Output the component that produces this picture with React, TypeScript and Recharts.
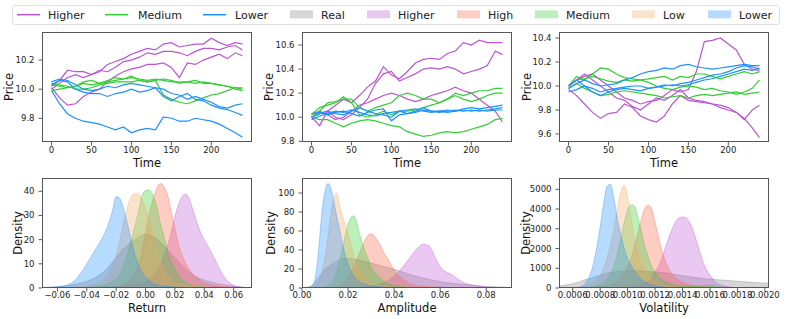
import { LineChart, Line, AreaChart, Area, XAxis, YAxis } from "recharts";

const FONT = '"DejaVu Sans", sans-serif';

// ---- simulated price paths (sampled every 10 steps) ----
const TIME = [0, 10, 20, 30, 40, 50, 60, 70, 80, 90, 100, 110, 120, 130, 140, 150, 160, 170, 180, 190, 200, 210, 220, 230, 239];

const A_HIGHER = [
  [10.02, 10.06, 10.13, 10.12, 10.12, 10.1, 10.12, 10.17, 10.19, 10.21, 10.24, 10.26, 10.28, 10.27, 10.31, 10.32, 10.29, 10.3, 10.31, 10.31, 10.35, 10.32, 10.3, 10.32, 10.31],
  [10.0, 10.04, 10.08, 10.1, 10.08, 10.1, 10.13, 10.12, 10.15, 10.19, 10.2, 10.22, 10.25, 10.24, 10.26, 10.26, 10.25, 10.23, 10.26, 10.28, 10.28, 10.27, 10.29, 10.3, 10.27],
  [10.01, 9.94, 9.89, 9.9, 9.95, 9.98, 10.0, 10.05, 10.09, 10.12, 10.14, 10.15, 10.17, 10.17, 10.18, 10.15, 10.08, 10.18, 10.17, 10.2, 10.22, 10.24, 10.21, 10.25, 10.23],
];
const A_MEDIUM = [
  [9.99, 10.0, 10.01, 10.02, 10.04, 10.03, 10.04, 10.05, 10.06, 10.07, 10.08, 10.07, 10.06, 10.07, 10.06, 10.05, 10.05, 10.05, 10.04, 10.05, 10.04, 10.03, 10.02, 10.01, 10.0],
  [10.03, 10.02, 10.01, 10.02, 10.05, 10.06, 10.04, 10.06, 10.08, 10.07, 10.09, 10.06, 10.05, 10.06, 9.96, 9.93, 9.91, 9.9, 9.92, 9.94, 9.96, 9.97, 9.99, 10.01, 10.01],
  [10.04, 10.03, 10.02, 10.0, 10.0, 10.01, 10.03, 10.04, 10.05, 10.05, 10.05, 10.06, 10.05, 10.06, 10.07, 10.06, 10.04, 10.05, 10.06, 10.04, 10.04, 10.03, 10.02, 10.0, 9.99],
];
const A_LOWER = [
  [9.99, 9.9, 9.83, 9.8, 9.78, 9.77, 9.76, 9.74, 9.72, 9.74, 9.7, 9.72, 9.73, 9.72, 9.81, 9.8, 9.78, 9.78, 9.8, 9.79, 9.78, 9.76, 9.73, 9.7, 9.67],
  [10.03, 10.06, 10.05, 10.0, 9.98, 9.97, 9.97, 9.95, 9.97, 9.98, 10.0, 9.98, 9.99, 10.01, 9.95, 9.92, 9.95, 9.97, 9.93, 9.92, 9.89, 9.87, 9.86, 9.84, 9.82],
  [10.05, 10.07, 10.06, 10.03, 10.0, 9.99, 10.0, 10.02, 10.01, 10.03, 10.04, 10.03, 10.02, 10.01, 10.0, 9.97, 9.96, 9.93, 9.95, 9.93, 9.91, 9.88, 9.87, 9.89, 9.9],
];

const B_HIGHER = [
  [10.0, 9.93, 10.05, 10.1, 10.15, 10.12, 10.18, 10.25, 10.3, 10.42, 10.35, 10.32, 10.38, 10.45, 10.48, 10.49, 10.48, 10.53, 10.55, 10.62, 10.6, 10.64, 10.62, 10.62, 10.62],
  [10.0, 10.03, 10.05, 10.0, 9.98, 10.02, 10.08, 10.15, 10.28, 10.36, 10.38, 10.3, 10.33, 10.36, 10.4, 10.41, 10.4, 10.42, 10.4, 10.36, 10.38, 10.4, 10.43, 10.55, 10.52],
  [10.02, 10.05, 10.02, 9.98, 10.0, 10.05, 10.1, 10.12, 10.15, 10.18, 10.2, 10.18, 10.15, 10.13, 10.15, 10.18, 10.2, 10.22, 10.25, 10.22, 10.2, 10.15, 10.1, 10.05, 9.96],
];
const B_MEDIUM = [
  [10.0, 10.05, 10.12, 10.13, 10.15, 10.15, 10.08, 10.05, 10.08, 10.1, 10.12, 10.18, 10.2, 10.18, 10.15, 10.15, 10.12, 10.15, 10.2, 10.18, 10.2, 10.22, 10.22, 10.24, 10.24],
  [10.02, 10.08, 10.1, 10.12, 10.17, 10.12, 10.02, 10.0, 10.02, 10.05, 10.02, 10.05, 10.05, 10.06, 10.08, 10.1, 10.12, 10.15, 10.18, 10.15, 10.13, 10.15, 10.18, 10.2, 10.2],
  [10.0, 9.98, 9.98, 9.95, 9.92, 9.95, 9.97, 9.98, 9.97, 9.95, 9.93, 9.92, 9.88, 9.86, 9.84, 9.85, 9.87, 9.88, 9.87, 9.88, 9.9, 9.92, 9.94, 9.98, 9.99],
];
const B_LOWER = [
  [10.0, 10.03, 10.05, 10.03, 10.02, 10.05, 10.08, 10.05, 10.03, 10.02, 10.0, 10.05, 10.06, 10.07, 10.05, 10.04, 10.05, 10.06, 10.05, 10.07, 10.08, 10.07, 10.08, 10.09, 10.1],
  [10.03, 10.04, 10.02, 10.04, 10.05, 10.03, 10.01, 10.04, 10.06, 10.07, 9.97, 10.02, 10.03, 10.05, 10.08, 10.05, 10.04, 10.05, 10.06, 10.05, 10.06, 10.05, 10.06, 10.07, 10.08],
  [9.98, 10.01, 10.03, 10.05, 10.04, 10.06, 10.04, 10.02, 10.01, 10.03, 10.04, 10.05, 10.03, 10.04, 10.06, 10.05, 10.05, 10.04, 10.05, 10.06, 10.05, 10.06, 10.05, 10.06, 10.06],
];

const C_HIGHER = [
  [10.0, 10.05, 10.08, 10.1, 10.05, 10.0, 9.95, 9.9, 9.88, 9.85, 9.87, 9.88, 9.92, 9.97, 9.95, 9.97, 10.12, 10.37, 10.38, 10.4, 10.35, 10.3, 10.18, 10.14, 10.13],
  [10.0, 10.05, 10.1, 10.05, 10.0, 9.95, 9.9, 9.88, 9.83, 9.8, 9.85, 9.9, 9.88, 9.92, 9.97, 9.9, 9.88, 9.87, 9.85, 9.82, 9.8, 9.78, 9.73, 9.65, 9.57],
  [9.97, 9.92, 9.85, 9.78, 9.73, 9.77, 9.78, 9.85, 9.82, 9.75, 9.72, 9.7, 9.75, 9.85, 9.92, 9.88, 9.87, 9.86, 9.85, 9.84, 9.82, 9.78, 9.72, 9.8, 9.84],
];
const C_MEDIUM = [
  [10.0, 10.08, 10.05, 10.1, 10.15, 10.14, 10.1, 10.07, 10.06, 10.05, 10.06, 10.07, 10.08, 10.05, 10.08, 10.07, 10.1, 10.1, 10.08, 10.06, 10.08, 10.1, 10.12, 10.1, 10.12],
  [10.0, 10.05, 10.06, 10.08, 10.06, 10.04, 10.03, 10.05, 10.04, 10.05, 10.03, 10.0, 9.98, 9.97, 9.99, 10.0, 9.99, 9.97, 9.98, 9.96, 9.95, 9.93, 9.95, 9.98, 10.05],
  [9.98, 10.02, 9.98, 9.95, 9.92, 9.93, 9.95, 9.96, 9.95, 9.94, 9.93, 9.92, 9.9, 9.91, 9.92, 9.9, 9.92, 9.93, 9.92, 9.93, 9.94, 9.95, 9.93, 9.94, 9.95],
];
const C_LOWER = [
  [9.98, 10.02, 10.05, 10.02, 10.0, 10.01, 10.02, 10.05, 10.07, 10.1, 10.12, 10.13, 10.15, 10.14, 10.17, 10.18, 10.16, 10.15, 10.14, 10.15, 10.16, 10.17, 10.18, 10.17, 10.17],
  [10.0, 10.05, 10.0, 9.98, 9.95, 9.97, 9.98, 9.99, 10.0, 10.0, 9.98, 9.99, 10.01, 10.0, 10.02, 10.03, 10.05, 10.07, 10.09, 10.1, 10.12, 10.15, 10.17, 10.16, 10.14],
  [9.95, 9.97, 10.0, 9.95, 9.92, 9.95, 9.97, 9.98, 9.97, 9.96, 9.98, 9.99, 10.0, 10.01, 10.0, 10.01, 10.03, 10.05, 10.06, 10.08, 10.1, 10.12, 10.14, 10.13, 10.15],
];

// ---- density curves ----
const RETURN_X = [-0.07, -0.065, -0.06, -0.055, -0.05, -0.0475, -0.045, -0.0425, -0.04, -0.0375, -0.035, -0.0325, -0.03, -0.0275, -0.025, -0.0225, -0.02, -0.0175, -0.015, -0.0125, -0.01, -0.0075, -0.005, -0.0025, 0, 0.0025, 0.005, 0.0075, 0.01, 0.0125, 0.015, 0.0175, 0.02, 0.0225, 0.025, 0.0275, 0.03, 0.0325, 0.035, 0.0375, 0.04, 0.0425, 0.045, 0.0475, 0.05, 0.055, 0.06, 0.065, 0.07];
const RETURN_REAL = [0.2, 0.3, 0.5, 0.8, 1.3, 1.6, 1.9, 2.3, 2.8, 3.4, 4.1, 5, 6, 7.3, 9, 10.8, 12.6, 14.5, 16.3, 17.6, 18.9, 20, 21, 21.8, 22.2, 22, 21.3, 20.3, 19, 17.5, 16, 14.3, 12.5, 10.8, 9.3, 7.8, 6.4, 5.3, 4.5, 3.9, 3.3, 2.8, 2.4, 2, 1.7, 1.2, 0.8, 0.4, 0.2];
const RETURN_HIGHER = [0, 0.05, 0.05, 0.1, 0.1, 0.15, 0.15, 0.2, 0.2, 0.25, 0.3, 0.3, 0.35, 0.4, 0.45, 0.5, 0.55, 0.65, 0.75, 0.85, 1, 1.2, 1.5, 1.9, 2.5, 3.5, 4.8, 6.8, 9.4, 13, 17.5, 23, 29.5, 34.5, 38, 38.8, 36.5, 31.8, 27, 23, 20, 17.2, 14.5, 11.5, 8.3, 3.5, 1.1, 0.4, 0.1];
const RETURN_HIGH = [0, 0, 0, 0, 0, 0, 0, 0.02, 0.03, 0.04, 0.05, 0.1, 0.15, 0.2, 0.3, 0.4, 0.6, 1, 1.5, 2.3, 3.5, 5.5, 9.5, 15, 22.5, 30.5, 36.5, 41, 43.2, 42, 38.5, 31.5, 24.5, 18, 13.3, 10, 7.5, 5.5, 4, 3, 2.2, 1.6, 1.2, 0.9, 0.7, 0.4, 0.2, 0.1, 0.05];
const RETURN_MEDIUM = [0, 0, 0, 0, 0.05, 0.1, 0.1, 0.15, 0.2, 0.3, 0.4, 0.6, 0.8, 1.2, 1.8, 2.6, 3.8, 5.7, 9, 13.5, 19, 25, 31, 38, 40.3, 40.5, 38.5, 34, 27, 21.5, 15, 11, 7.5, 5, 3.3, 2.2, 1.4, 1, 0.7, 0.5, 0.35, 0.25, 0.2, 0.1, 0.1, 0.05, 0, 0, 0];
const RETURN_LOW = [0, 0, 0.05, 0.1, 0.2, 0.3, 0.4, 0.6, 0.8, 1, 1.3, 1.8, 2.7, 4, 6, 9.5, 13.5, 19.5, 27, 33, 37.5, 39, 39, 37, 33, 28, 21.5, 15.5, 11, 7.8, 5.3, 3.5, 2.5, 1.8, 1.4, 1.1, 0.8, 0.6, 0.4, 0.3, 0.2, 0.15, 0.1, 0.05, 0, 0, 0, 0, 0];
const RETURN_LOWER = [0.1, 0.3, 0.5, 1, 2.2, 3.5, 5.5, 7.5, 10, 12.5, 15, 17.5, 20, 23, 27, 32, 37.8, 37, 33, 27, 20.5, 14.5, 10, 6.5, 4.5, 3, 2, 1.4, 1, 0.8, 0.6, 0.5, 0.4, 0.35, 0.3, 0.25, 0.2, 0.15, 0.15, 0.1, 0.1, 0.05, 0.05, 0, 0, 0, 0, 0, 0];

const AMP_X = [0, 0.00125, 0.0025, 0.00375, 0.005, 0.00625, 0.0075, 0.00875, 0.01, 0.01125, 0.0125, 0.01375, 0.015, 0.01625, 0.0175, 0.01875, 0.02, 0.02125, 0.0225, 0.02375, 0.025, 0.02625, 0.0275, 0.02875, 0.03, 0.03125, 0.0325, 0.03375, 0.035, 0.03625, 0.0375, 0.03875, 0.04, 0.0425, 0.045, 0.0475, 0.05, 0.0525, 0.055, 0.0575, 0.06, 0.065, 0.07, 0.075, 0.08, 0.085, 0.09];
const AMP_REAL = [0, 0.3, 1, 2, 4.5, 8, 12, 16, 19.5, 22, 24.5, 26.5, 28.2, 29.5, 30.5, 31, 31, 30.8, 30.3, 29.7, 29.2, 28.5, 27.8, 27, 26.2, 25.4, 24.6, 23.8, 23, 22.2, 21.4, 20.5, 19.7, 18, 15.8, 13.8, 12.2, 10.6, 9.2, 7.8, 6.8, 5, 3.8, 2.7, 1.8, 1.1, 0.6];
const AMP_HIGHER = [0, 0, 0, 0, 0, 0, 0, 0, 0, 0, 0, 0, 0.05, 0.1, 0.15, 0.2, 0.5, 0.6, 0.7, 0.8, 1, 1.2, 1.4, 1.7, 2.1, 2.5, 3, 4, 5.2, 6.5, 8, 10, 12.5, 18.5, 26, 34, 41.5, 46, 44.5, 34, 22, 14, 6, 2.6, 1, 0.5, 0.2];
const AMP_HIGH = [0, 0, 0, 0, 0, 0, 0, 0, 0, 0.1, 0.3, 0.7, 1.4, 2.3, 4, 7, 11, 16, 23, 30, 37, 44, 51, 55.5, 57, 55, 51, 46, 40, 34, 30, 24, 19, 12, 7, 4, 2.5, 1.8, 1.3, 1, 0.7, 0.4, 0.2, 0.1, 0.05, 0, 0];
const AMP_MEDIUM = [0, 0, 0, 0, 0, 0, 0.1, 0.5, 1.2, 2.5, 4.5, 8.5, 17, 28, 41, 55, 67, 74, 76, 69, 57, 47, 38, 31, 22, 17, 13.5, 10.5, 8, 6, 4.5, 3.3, 2.6, 1.6, 1, 0.6, 0.4, 0.2, 0.1, 0.05, 0, 0, 0, 0, 0, 0, 0];
const AMP_LOW = [0, 0, 0, 0.2, 0.8, 3, 7.5, 18, 33, 53, 78, 94, 100, 88, 76, 67, 57, 46, 34, 26, 18, 13, 9.5, 6.5, 4.8, 3.6, 2.8, 2.3, 1.9, 1.6, 1.3, 1.1, 0.9, 0.7, 0.5, 0.4, 0.3, 0.2, 0.1, 0.05, 0, 0, 0, 0, 0, 0, 0];
const AMP_LOWER = [0, 0, 0.1, 0.8, 4, 18, 48, 82, 102, 110, 105, 92, 76, 62, 47, 35, 25, 18, 12.5, 8.5, 6.2, 4.8, 3.8, 3, 2.5, 2, 1.6, 1.3, 1, 0.8, 0.6, 0.5, 0.4, 0.3, 0.2, 0.1, 0.1, 0.05, 0, 0, 0, 0, 0, 0, 0, 0, 0];

const VOL_X = [0.0005, 0.00055, 0.0006, 0.00065, 0.0007, 0.000725, 0.00075, 0.000775, 0.0008, 0.000825, 0.00085, 0.000875, 0.0009, 0.000925, 0.00095, 0.000975, 0.001, 0.001025, 0.00105, 0.001075, 0.0011, 0.001125, 0.00115, 0.001175, 0.0012, 0.001225, 0.00125, 0.001275, 0.0013, 0.001325, 0.00135, 0.001375, 0.0014, 0.001425, 0.00145, 0.001475, 0.0015, 0.001525, 0.00155, 0.001575, 0.0016, 0.00165, 0.0017, 0.00175, 0.0018, 0.00185, 0.0019, 0.00195, 0.00203];
const VOL_REAL = [100, 150, 220, 320, 440, 490, 540, 590, 645, 700, 750, 790, 815, 840, 860, 870, 878, 880, 880, 875, 865, 855, 840, 825, 810, 795, 785, 760, 735, 710, 685, 655, 625, 600, 575, 550, 525, 505, 485, 465, 450, 420, 400, 370, 345, 315, 290, 270, 240];
const VOL_HIGHER = [0, 0, 0, 0, 0, 0, 0, 0, 0, 0, 0, 0, 0, 0, 0, 10, 20, 35, 60, 95, 160, 240, 350, 560, 850, 1080, 1500, 2050, 2550, 3000, 3350, 3560, 3600, 3560, 3330, 2950, 2420, 1850, 1300, 920, 650, 250, 110, 40, 10, 0, 0, 0, 0];
const VOL_HIGH = [0, 0, 0, 0, 0, 10, 20, 40, 60, 80, 110, 160, 240, 350, 520, 750, 1100, 1500, 2100, 2800, 3500, 4020, 4200, 4020, 3320, 2580, 1880, 1350, 950, 700, 500, 370, 280, 200, 160, 120, 100, 80, 60, 50, 40, 20, 10, 0, 0, 0, 0, 0, 0];
const VOL_MEDIUM = [0, 0, 0, 0, 20, 35, 60, 100, 170, 270, 450, 750, 1100, 1750, 2500, 3300, 3950, 4220, 4150, 3580, 2880, 2100, 1600, 1100, 800, 600, 430, 320, 240, 180, 140, 110, 100, 90, 80, 80, 90, 100, 120, 135, 140, 90, 20, 0, 0, 0, 0, 0, 0];
const VOL_LOW = [0, 0, 0, 30, 100, 180, 270, 420, 650, 1000, 1500, 2150, 2950, 4000, 4850, 5200, 4600, 3550, 2500, 1800, 1280, 900, 620, 450, 320, 220, 160, 120, 90, 70, 55, 40, 30, 20, 15, 10, 5, 0, 0, 0, 0, 0, 0, 0, 0, 0, 0, 0, 0];
const VOL_LOWER = [0, 0, 0, 40, 300, 650, 1200, 2050, 3100, 4250, 5150, 5250, 4550, 3500, 2700, 2000, 1500, 1150, 850, 620, 430, 320, 220, 160, 110, 80, 60, 45, 35, 25, 20, 15, 10, 5, 0, 0, 0, 0, 0, 0, 0, 0, 0, 0, 0, 0, 0, 0, 0];

const LINE_COLORS = { higher: "#BA55D3", medium: "#32CD32", lower: "#1E90FF" };
const KDE_SERIES = [
  { key: "real", label: "Real", color: "#808080" },
  { key: "higher", label: "Higher", color: "#BA55D3" },
  { key: "high", label: "High", color: "#FF6347" },
  { key: "medium", label: "Medium", color: "#32CD32" },
  { key: "low", label: "Low", color: "#F4A460" },
  { key: "lower", label: "Lower", color: "#1E90FF" },
];
const FILL_ALPHA = 0.32;

const PW = 210;
const PH = 110;
const COLS = [42, 302, 559];
const ROW_TOP = 32;
const ROW_BOTTOM = 178;
const RIGHT_PAD = 26; // room for overhanging tick labels

const tickStyle = { fontSize: 8.5, fill: "#222" };
const tickLine = { stroke: "#333", strokeWidth: 0.8 };

function PricePanel({ left, higher, medium, lower, yDomain, yTicks }: any) {
  const rows = TIME.map((t, i) => {
    const r: any = { t };
    higher.forEach((s: number[], k: number) => (r["h" + k] = s[i]));
    medium.forEach((s: number[], k: number) => (r["m" + k] = s[i]));
    lower.forEach((s: number[], k: number) => (r["l" + k] = s[i]));
    return r;
  });
  const groups: [string, number[][], string][] = [
    ["h", higher, LINE_COLORS.higher],
    ["m", medium, LINE_COLORS.medium],
    ["l", lower, LINE_COLORS.lower],
  ];
  return (
    <div style={{ position: "absolute", left: left - 40, top: ROW_TOP - 6 }}>
      <LineChart width={PW + 40 + RIGHT_PAD} height={PH + 26} data={rows} margin={{ top: 6, right: RIGHT_PAD, bottom: 0, left: 0 }}>
        <XAxis
          dataKey="t"
          type="number"
          domain={[-11.95, 250.95]}
          ticks={[0, 50, 100, 150, 200]}
          interval={0}
          allowDataOverflow
          axisLine={false}
          tickLine={tickLine}
          tickSize={3.5}
          tickMargin={1.5}
          tick={tickStyle}
          height={20}
        />
        <YAxis
          type="number"
          domain={yDomain}
          ticks={yTicks}
          interval={0}
          allowDataOverflow
          axisLine={false}
          tickLine={tickLine}
          tickSize={3.5}
          tickMargin={4}
          tick={tickStyle}
          width={40}
          tickFormatter={(v: number) => v.toFixed(1)}
        />
        {groups.map(([p, set, color]) =>
          set.map((_, k) => (
            <Line
              key={p + k}
              dataKey={p + k}
              type="linear"
              stroke={color}
              strokeWidth={1.2}
              dot={false}
              activeDot={false}
              isAnimationActive={false}
            />
          ))
        )}
      </LineChart>
    </div>
  );
}

function DensityPanel({ left, xs, values, xDomain, xTicks, xFmt, yDomain, yTicks }: any) {
  const rows = xs.map((x: number, i: number) => {
    const r: any = { x };
    KDE_SERIES.forEach((s) => (r[s.key] = values[s.key][i]));
    return r;
  });
  return (
    <div style={{ position: "absolute", left: left - 40, top: ROW_BOTTOM - 6 }}>
      <AreaChart width={PW + 40 + RIGHT_PAD} height={PH + 26} data={rows} margin={{ top: 6, right: RIGHT_PAD, bottom: 0, left: 0 }}>
        <XAxis
          dataKey="x"
          type="number"
          domain={xDomain}
          ticks={xTicks}
          interval={0}
          allowDataOverflow
          axisLine={false}
          tickLine={tickLine}
          tickSize={3.5}
          tickMargin={0.5}
          tick={tickStyle}
          height={20}
          tickFormatter={xFmt}
        />
        <YAxis
          type="number"
          domain={yDomain}
          ticks={yTicks}
          interval={0}
          allowDataOverflow
          axisLine={false}
          tickLine={tickLine}
          tickSize={3.5}
          tickMargin={4}
          tick={tickStyle}
          width={40}
        />
        {KDE_SERIES.map((s) => (
          <Area
            key={s.key}
            dataKey={s.key}
            type="monotone"
            stroke={s.color}
            strokeOpacity={0.45}
            strokeWidth={0.8}
            fill={s.color}
            fillOpacity={FILL_ALPHA}
            dot={false}
            activeDot={false}
            isAnimationActive={false}
          />
        ))}
      </AreaChart>
    </div>
  );
}

const fmtSigned = (d: number) => (v: number) => v.toFixed(d).replace("-", "\u2212");

function Overlay() {
  const lineItems = [
    { x: 17, tx: 48, label: "Higher", color: LINE_COLORS.higher },
    { x: 105, tx: 138, label: "Medium", color: LINE_COLORS.medium },
    { x: 203, tx: 235, label: "Lower", color: LINE_COLORS.lower },
  ];
  const patchX = [290, 367, 457, 535, 632, 708];
  const topTitles = ["Time", "Time", "Time"];
  const bottomTitles = ["Return", "Amplitude", "Volatility"];
  const topYLabelX = [9, 269, 527];
  const bottomYLabelX = [18, 271, 526];
  return (
    <svg width={789} height={319} style={{ position: "absolute", left: 0, top: 0, pointerEvents: "none" }} fontFamily={FONT}>
      <rect x={12.5} y={5.5} width={767} height={19} rx={2.5} fill="#fff" fillOpacity={0.85} stroke="#d8d8d8" strokeWidth={0.8} />
      {lineItems.map((it) => (
        <g key={it.label + it.x}>
          <line x1={it.x} x2={it.x + 23} y1={14.7} y2={14.7} stroke={it.color} strokeWidth={1.5} />
          <text x={it.tx} y={18.5} fontSize={11} fill="#222">{it.label}</text>
        </g>
      ))}
      {KDE_SERIES.map((s, i) => (
        <g key={s.key}>
          <rect x={patchX[i]} y={10.3} width={23} height={8} fill={s.color} fillOpacity={FILL_ALPHA} />
          <text x={patchX[i] + 31} y={18.5} fontSize={11} fill="#222">{s.label}</text>
        </g>
      ))}
      {COLS.map((x, i) => (
        <g key={"f" + i}>
          <rect x={x + 0.5} y={ROW_TOP + 0.5} width={PW - 1} height={PH - 1} fill="none" stroke="#555" strokeWidth={1} />
          <rect x={x + 0.5} y={ROW_BOTTOM + 0.5} width={PW - 1} height={PH - 1} fill="none" stroke="#555" strokeWidth={1} />
          <text x={x + PW / 2} y={166.5} fontSize={11.5} textAnchor="middle" fill="#111">{topTitles[i]}</text>
          <text x={x + PW / 2} y={311.5} fontSize={11.5} textAnchor="middle" fill="#111">{bottomTitles[i]}</text>
          <text transform={`translate(${topYLabelX[i]},${ROW_TOP + PH / 2}) rotate(-90)`} textAnchor="middle" dominantBaseline="central" fontSize={11.5} fill="#111">Price</text>
          <text transform={`translate(${bottomYLabelX[i]},${ROW_BOTTOM + PH / 2}) rotate(-90)`} textAnchor="middle" dominantBaseline="central" fontSize={11.5} fill="#111">Density</text>
        </g>
      ))}
    </svg>
  );
}

export default function App() {
  return (
    <div style={{ position: "absolute", left: 0, top: 0, width: 789, height: 319, background: "#fff", fontFamily: FONT, overflow: "hidden" }}>
      <PricePanel left={COLS[0]} higher={A_HIGHER} medium={A_MEDIUM} lower={A_LOWER} yDomain={[9.637, 10.393]} yTicks={[9.8, 10.0, 10.2]} />
      <PricePanel left={COLS[1]} higher={B_HIGHER} medium={B_MEDIUM} lower={B_LOWER} yDomain={[9.794, 10.708]} yTicks={[9.8, 10.0, 10.2, 10.4, 10.6]} />
      <PricePanel left={COLS[2]} higher={C_HIGHER} medium={C_MEDIUM} lower={C_LOWER} yDomain={[9.533, 10.45]} yTicks={[9.6, 9.8, 10.0, 10.2, 10.4]} />
      <DensityPanel
        left={COLS[0]}
        xs={RETURN_X}
        values={{ real: RETURN_REAL, higher: RETURN_HIGHER, high: RETURN_HIGH, medium: RETURN_MEDIUM, low: RETURN_LOW, lower: RETURN_LOWER }}
        xDomain={[-0.0705, 0.0725]}
        xTicks={[-0.06, -0.04, -0.02, 0, 0.02, 0.04, 0.06]}
        xFmt={fmtSigned(2)}
        yDomain={[0, 45.5]}
        yTicks={[0, 10, 20, 30, 40]}
      />
      <DensityPanel
        left={COLS[1]}
        xs={AMP_X}
        values={{ real: AMP_REAL, higher: AMP_HIGHER, high: AMP_HIGH, medium: AMP_MEDIUM, low: AMP_LOW, lower: AMP_LOWER }}
        xDomain={[0, 0.0912]}
        xTicks={[0, 0.02, 0.04, 0.06, 0.08]}
        xFmt={fmtSigned(2)}
        yDomain={[0, 115.8]}
        yTicks={[0, 20, 40, 60, 80, 100]}
      />
      <DensityPanel
        left={COLS[2]}
        xs={VOL_X}
        values={{ real: VOL_REAL, higher: VOL_HIGHER, high: VOL_HIGH, medium: VOL_MEDIUM, low: VOL_LOW, lower: VOL_LOWER }}
        xDomain={[0.0005, 0.00203]}
        xTicks={[0.0006, 0.0008, 0.001, 0.0012, 0.0014, 0.0016, 0.0018, 0.002]}
        xFmt={fmtSigned(4)}
        yDomain={[0, 5572]}
        yTicks={[0, 1000, 2000, 3000, 4000, 5000]}
      />
      <Overlay />
    </div>
  );
}
